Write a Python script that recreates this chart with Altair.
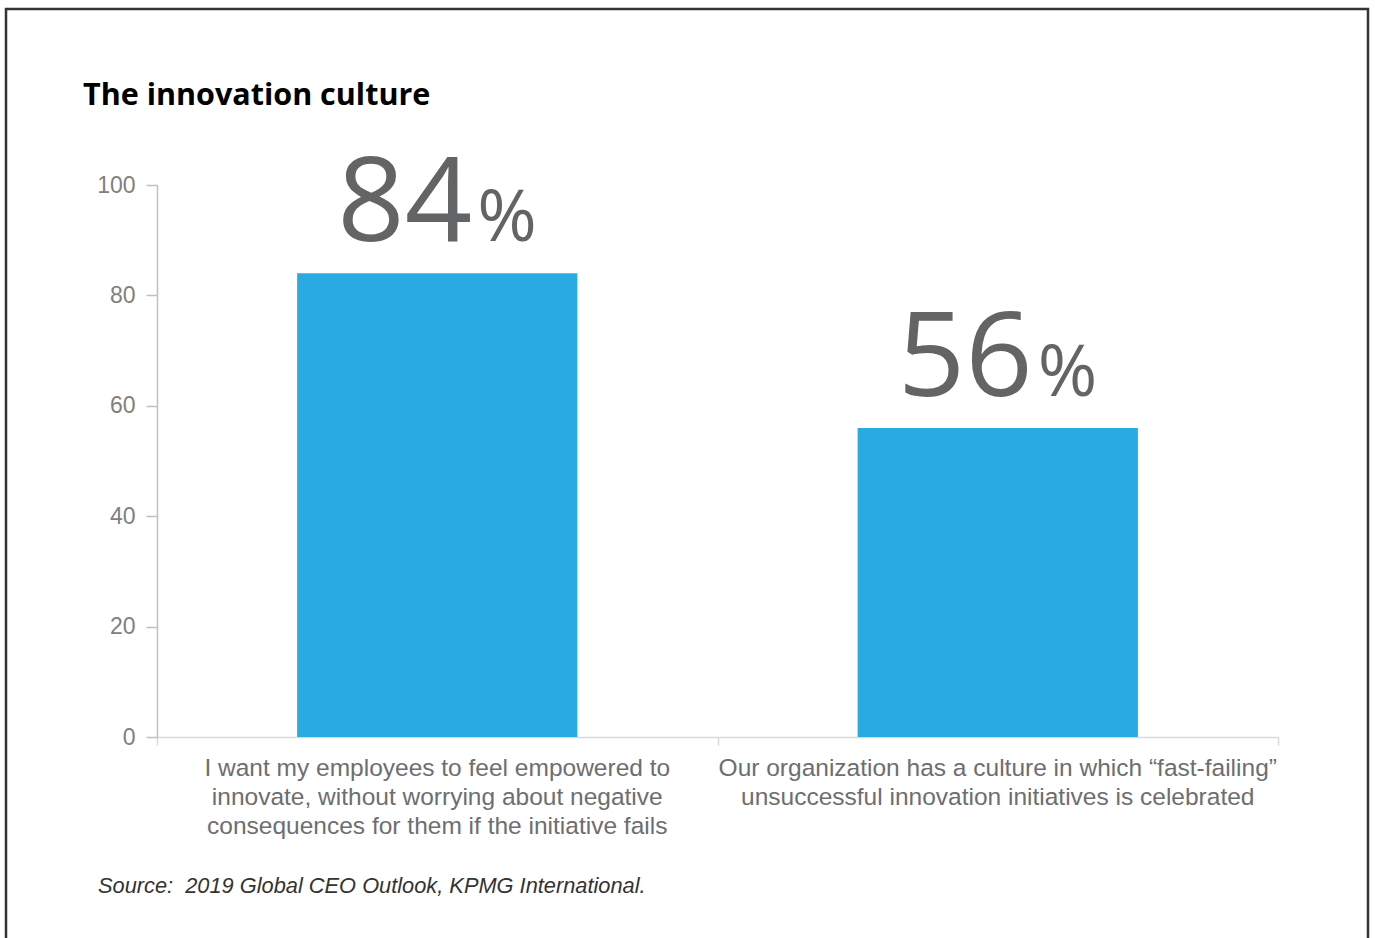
import altair as alt
import pandas as pd

categories = [
    "I want my employees to feel empowered to\ninnovate, without worrying about negative\nconsequences for them if the initiative fails",
    "Our organization has a culture in which \u201cfast-failing\u201d\nunsuccessful innovation initiatives is celebrated",
]
values = [84, 56]
y_ticks = [0, 20, 40, 60, 80, 100]
x_ticks = [0, 1, 2]
title_text = "The innovation culture"
source_text = "Source:\u00a0 2019 Global CEO Outlook, KPMG International."

df = pd.DataFrame({"i": list(range(len(values))), "label": categories, "value": values})

W, H = 1121, 552
PAD_L, PAD_T = 157, 185

base = alt.Chart(df).transform_calculate(
    x0="datum.i + 0.25", x1="datum.i + 0.75", xc="datum.i + 0.5",
    num="'' + datum.value", pct="'%'"
)

xscale = alt.Scale(domain=[0, 2], nice=False, zero=False)
yscale = alt.Scale(domain=[0, 100], nice=False)

bars = base.mark_bar(color="#29abe2").encode(
    x=alt.X("x0:Q", scale=xscale, axis=alt.Axis(
        values=x_ticks, labels=False, title=None, grid=False,
        domainColor="#d9d9d9", tickColor="#d9d9d9", tickSize=8, domainWidth=1.5, tickWidth=1.5)),
    x2="x1:Q",
    y=alt.Y("value:Q", scale=yscale, axis=alt.Axis(
        values=y_ticks, title=None, grid=False, labelFontSize=23, labelColor="#808080",
        labelFont="Liberation Sans", domainColor="#c0c0c0", tickColor="#c0c0c0",
        tickSize=11, labelPadding=11, domainWidth=1.5, tickWidth=1.5)),
    y2=alt.datum(0),
)

num_text = base.mark_text(
    font="Open Sans", fontSize=118, color="#636466", align="right", baseline="alphabetic", dx=35, dy=-32
).encode(x=alt.X("xc:Q", scale=xscale), y=alt.Y("value:Q", scale=yscale), text="num:N")

pct_text = base.mark_text(
    font="Open Sans", fontSize=72, color="#636466", align="left", baseline="alphabetic", dx=40, dy=-32
).encode(x=alt.X("xc:Q", scale=xscale), y=alt.Y("value:Q", scale=yscale), text="pct:N")

cat_text = base.mark_text(
    font="Liberation Sans", fontSize=24.5, color="#6d6e71", align="center", baseline="top",
    lineBreak="\n", lineHeight=29
).encode(x=alt.X("xc:Q", scale=xscale), y=alt.value(H + 20), text="label:N")

extra = alt.Chart(pd.DataFrame({"t": [title_text], "s": [source_text]}))

title = extra.mark_text(
    font="Open Sans", fontWeight="bold", fontSize=30.5, color="#000000", align="left", baseline="alphabetic"
).encode(x=alt.value(83 - PAD_L), y=alt.value(105 - PAD_T), text="t:N")

source = extra.mark_text(
    font="Liberation Sans", fontStyle="italic", fontSize=21.8, color="#333333", align="left", baseline="alphabetic"
).encode(x=alt.value(98 - PAD_L), y=alt.value(893 - PAD_T), text="s:N")

frame = extra.mark_rect(fill=None, fillOpacity=0, stroke="#333333", strokeWidth=2.5).encode(
    x=alt.value(6 - PAD_L), x2=alt.value(1368 - PAD_L), y=alt.value(9 - PAD_T), y2=alt.value(800)
)

chart = alt.layer(frame, bars, num_text, pct_text, cat_text, title, source).properties(
    width=W, height=H,
    autosize=alt.AutoSizeParams(type="none"),
    padding={"left": PAD_L, "top": PAD_T, "right": 1375 - PAD_L - W, "bottom": 938 - PAD_T - H},
    background="white",
).configure_view(stroke=None)

chart.save("out.html", embed_options={"renderer": "svg", "actions": False})
